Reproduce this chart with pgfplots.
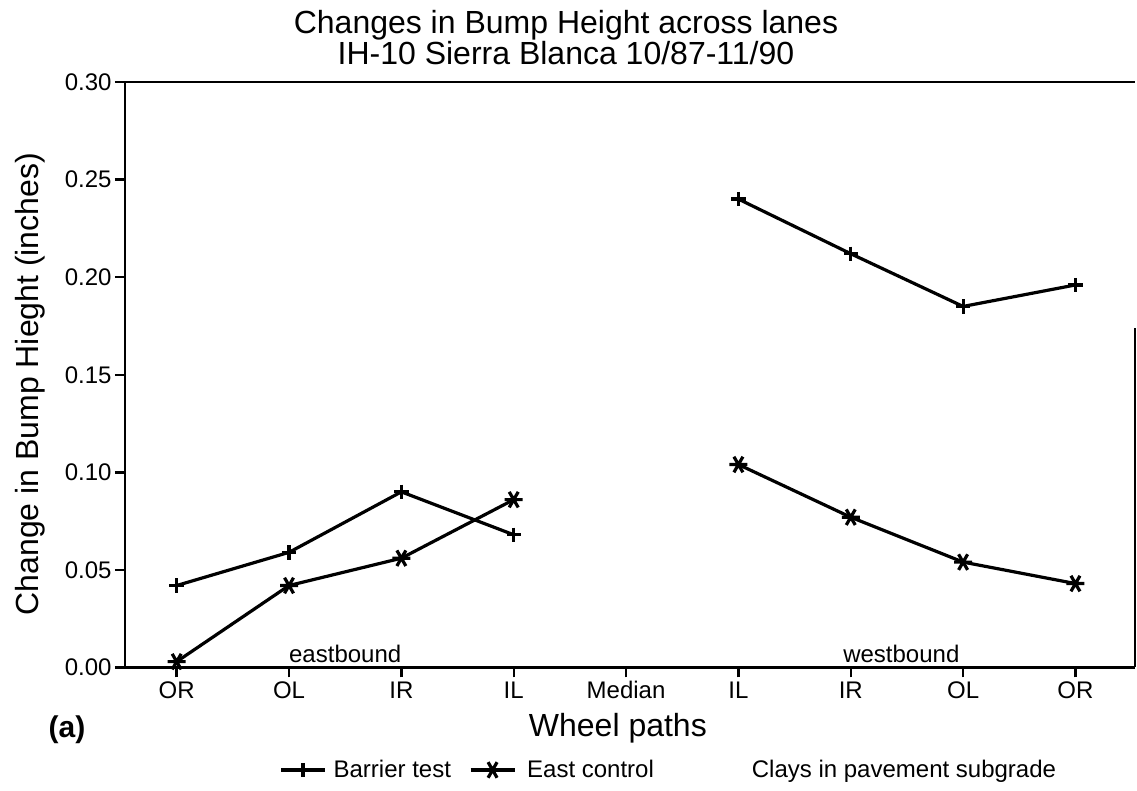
\documentclass[border=0pt]{standalone}
\usepackage{fontspec}
\setmainfont{Liberation Sans}
\usepackage{pgfplots}
\pgfplotsset{compat=1.18}
\begin{document}
\begin{tikzpicture}
\begin{axis}[
  at={(0pt,0pt)}, anchor=south west,
  scale only axis, width=505pt, height=292.75pt,
  xmin=-0.46, xmax=8.53, ymin=0, ymax=0.30,
  clip=false,
  axis lines*=left,
  axis line style={line width=1.3pt,-},
  xtick={0,1,2,3,4,5,6,7,8},
  xticklabels={OR,OL,IR,IL,Median,IL,IR,OL,OR},
  ytick={0,0.05,0.10,0.15,0.20,0.25,0.30},
  scaled y ticks=false,
  yticklabel style={/pgf/number format/fixed,/pgf/number format/fixed zerofill,/pgf/number format/precision=2,/pgf/number format/assume math mode=true},
  xticklabel style={text height=8.7pt, text depth=0pt},
  tick align=outside, major tick length=5pt,
  tick style={line width=1.2pt,black},
  every tick label/.append style={font=\fontsize{12}{14}\selectfont, inner sep=1.5pt},
  unbounded coords=jump,
  legend columns=-1,
  legend style={at={(axis description cs:0.1525,-0.175)}, anchor=west, draw=none, fill=none,
    font=\fontsize{12}{14}\selectfont, inner sep=0pt, column sep=0pt, nodes={inner sep=0pt}},
  legend image code/.code={\draw[mark repeat=2,mark phase=2] plot coordinates {(0pt,0pt) (11pt,0pt) (22pt,0pt)};},
]
\addplot[black, line width=1.6pt, mark=+, mark size=3.6pt, mark options={solid}]
  coordinates {(0,0.042) (1,0.059) (2,0.090) (3,0.068) (4,nan) (5,0.240) (6,0.212) (7,0.185) (8,0.196)};
\addlegendentry{\hspace*{3.5pt}Barrier test\hspace*{9pt}\mbox{}}
\addplot[black, line width=1.6pt, mark=asterisk, mark size=4.5pt, mark options={solid,rotate=90}]
  coordinates {(0,0.003) (1,0.042) (2,0.056) (3,0.086) (4,nan) (5,0.104) (6,0.077) (7,0.054) (8,0.043)};
\addlegendentry{\hspace*{5.5pt}East control\hspace*{49pt}\mbox{}}
\addlegendimage{empty legend}
\addlegendentry{Clays in pavement subgrade}

\draw[line width=1.3pt] (axis description cs:0,1) -- (axis description cs:1,1);
\draw[line width=1.3pt] (axis description cs:1,0) -- (axis description cs:1,0.58);

\node[font=\fontsize{16}{18}\selectfont] at (axis description cs:0.4366,1.0974) {Changes in Bump Height across lanes};
\node[font=\fontsize{16}{18}\selectfont] at (axis description cs:0.4366,1.0495) {IH-10 Sierra Blanca 10/87-11/90};
\node[font=\fontsize{16}{18}\selectfont, rotate=90] at (axis description cs:-0.094,0.484) {Change in Bump Hieght (inches)};
\node[font=\fontsize{16}{18}\selectfont] at (axis description cs:0.488,-0.1034) {Wheel paths};
\node[font=\bfseries\fontsize{15}{17}\selectfont] at (axis description cs:-0.0574,-0.1067) {(a)};
\node[font=\fontsize{12}{14}\selectfont, anchor=base] at (axis cs:1.5,0.0028) {eastbound};
\node[font=\fontsize{12}{14}\selectfont, anchor=base] at (axis cs:6.45,0.0028) {westbound};
\end{axis}
\pgfresetboundingbox
\path[use as bounding box] (-62.5pt,-61.75pt) rectangle (506pt,333.75pt);
\end{tikzpicture}
\end{document}
